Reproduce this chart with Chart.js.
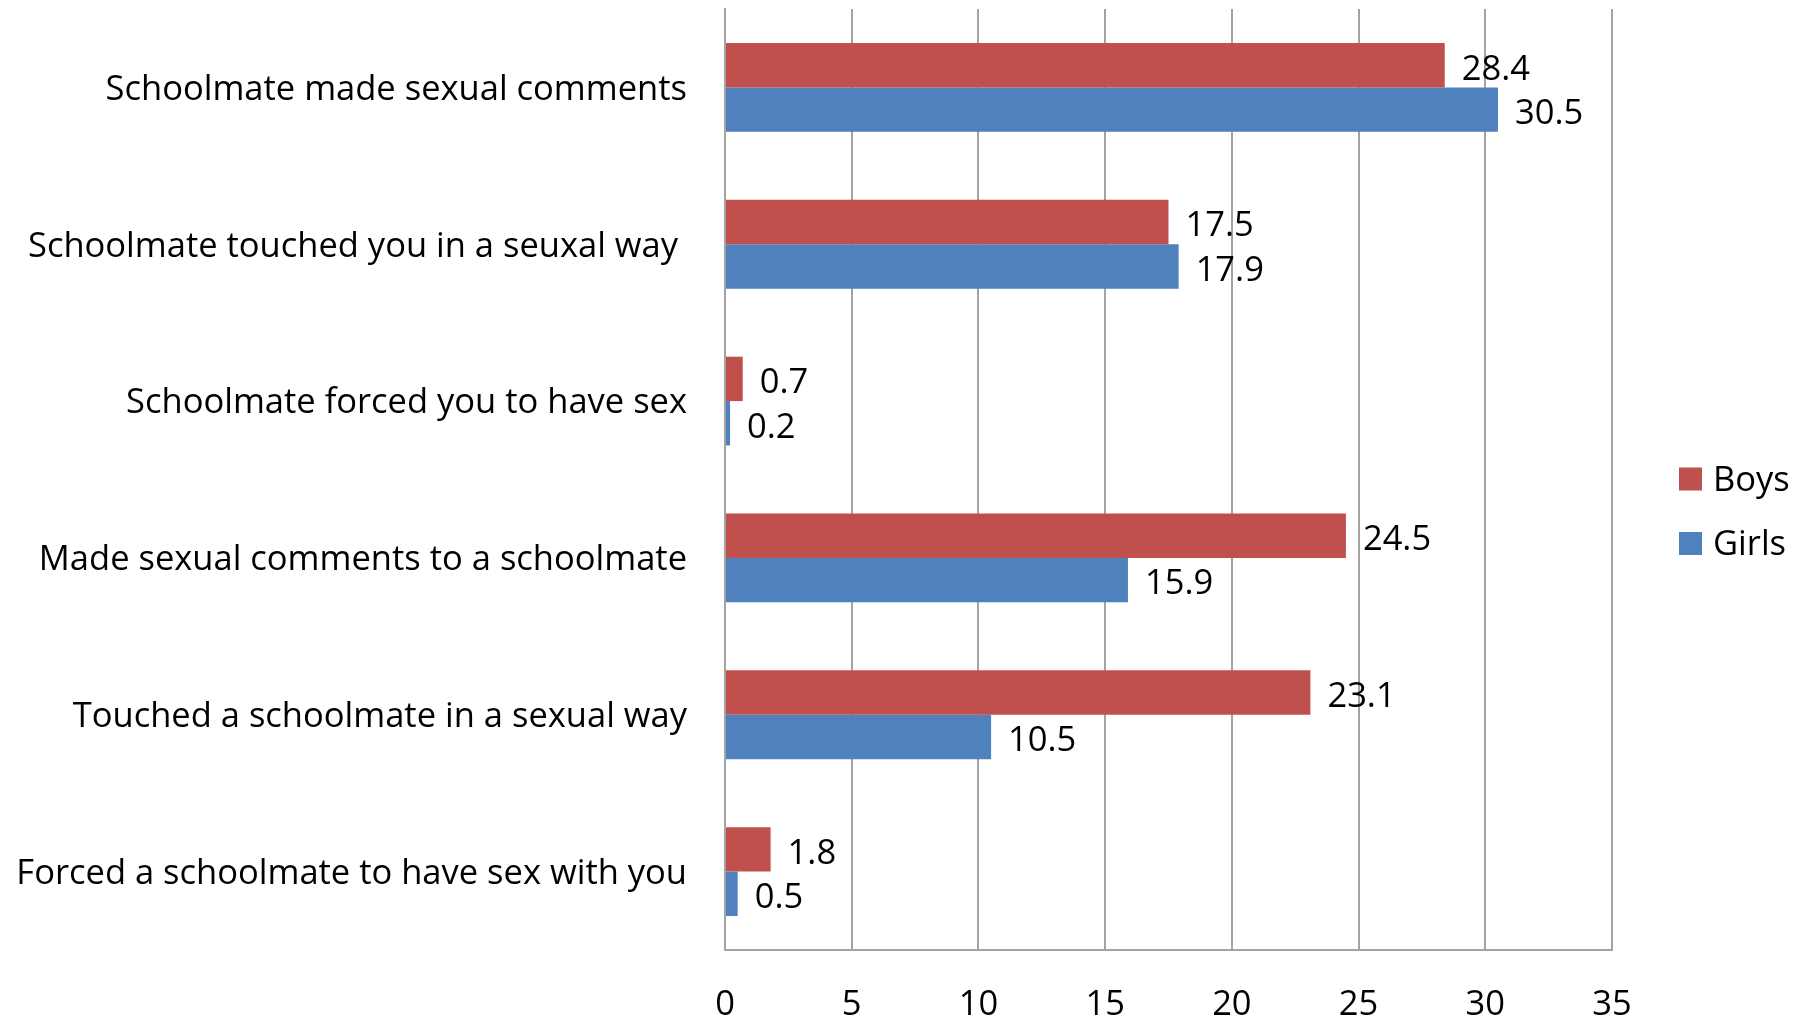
<!DOCTYPE html>
<html>
<head>
<meta charset="utf-8">
<script src="https://cdn.jsdelivr.net/npm/chart.js@4.4.1/dist/chart.umd.min.js"></script>
<style>
  html, body { margin: 0; padding: 0; background: #ffffff; overflow: hidden; }
  #wrap { width: 1805px; height: 1017px; }
</style>
</head>
<body>
<div id="wrap"><canvas id="chart" width="1805" height="1017"></canvas></div>
<script>
// Survey items (top to bottom) and percentages per group
const categories = [
  'Schoolmate made sexual comments',
  'Schoolmate touched you in a seuxal way ',
  'Schoolmate forced you to have sex',
  'Made sexual comments to a schoolmate',
  'Touched a schoolmate in a sexual way',
  'Forced a schoolmate to have sex with you'
];
const boysValues  = [28.4, 17.5, 0.7, 24.5, 23.1, 1.8];
const girlsValues = [30.5, 17.9, 0.2, 15.9, 10.5, 0.5];
const seriesNames = ['Boys', 'Girls'];
const xTickValues = [0, 5, 10, 15, 20, 25, 30, 35];

const FONT = '"Open Sans", "Noto Sans", sans-serif';
const FONT_SIZE = 34.5;
const RED = '#C0504D';
const BLUE = '#4F81BD';
const GRID = '#a3a3a3';

// Value labels to the right of each bar end
const valueLabels = {
  id: 'valueLabels',
  afterDatasetsDraw(chart) {
    const ctx = chart.ctx;
    ctx.save();
    ctx.font = FONT_SIZE + 'px ' + FONT;
    ctx.fillStyle = '#000000';
    ctx.textAlign = 'left';
    ctx.textBaseline = 'middle';
    chart.data.datasets.forEach((ds, i) => {
      chart.getDatasetMeta(i).data.forEach((bar, j) => {
        ctx.fillText(ds.data[j].toFixed(1), bar.x + 17, bar.y + 4.5);
      });
    });
    ctx.restore();
  }
};

// Legend with square swatches, to the right of the plot
const sideLegend = {
  id: 'sideLegend',
  afterDraw(chart) {
    const ctx = chart.ctx;
    const area = chart.chartArea;
    const boxX = area.right + 67;
    const firstY = 479;
    const step = 64.5;
    const box = 23;
    ctx.save();
    ctx.font = FONT_SIZE + 'px ' + FONT;
    ctx.textAlign = 'left';
    ctx.textBaseline = 'middle';
    chart.data.datasets.forEach((ds, i) => {
      const cy = firstY + i * step;
      ctx.fillStyle = ds.backgroundColor;
      ctx.fillRect(boxX, cy - box / 2, box, box);
      ctx.fillStyle = '#000000';
      ctx.fillText(ds.label, boxX + box + 11, cy + 2);
    });
    ctx.restore();
  }
};

new Chart(document.getElementById('chart'), {
  type: 'bar',
  data: {
    labels: categories,
    datasets: [
      { label: seriesNames[0], data: boysValues, backgroundColor: RED },
      { label: seriesNames[1], data: girlsValues, backgroundColor: BLUE }
    ]
  },
  options: {
    indexAxis: 'y',
    responsive: false,
    animation: false,
    devicePixelRatio: 1,
    categoryPercentage: 0.566,
    barPercentage: 1.0,
    layout: { padding: { top: 9, right: 193, left: 0, bottom: 0 } },
    plugins: {
      legend: { display: false },
      tooltip: { enabled: false }
    },
    scales: {
      x: {
        type: 'linear',
        min: xTickValues[0],
        max: xTickValues[xTickValues.length - 1],
        afterBuildTicks(scale) {
          scale.ticks = xTickValues.map(v => ({ value: v }));
        },
        afterFit(scale) {
          scale.height = 67;
          scale.paddingLeft = 0;
          scale.paddingRight = 0;
        },
        ticks: {
          color: '#000000',
          font: { family: FONT, size: FONT_SIZE },
          padding: 34,
          maxRotation: 0
        },
        grid: { color: GRID, lineWidth: 2, drawTicks: false },
        border: { display: true, color: GRID, width: 2 }
      },
      y: {
        type: 'category',
        afterFit(scale) {
          scale.width = 725;
          scale.paddingTop = 0;
          scale.paddingBottom = 0;
        },
        ticks: {
          color: '#000000',
          font: { family: FONT, size: FONT_SIZE },
          padding: 38,
          labelOffset: 2.5,
          autoSkip: false
        },
        grid: { display: false, drawTicks: false },
        border: { display: true, color: GRID, width: 2 }
      }
    }
  },
  plugins: [valueLabels, sideLegend]
});
</script>
</body>
</html>
